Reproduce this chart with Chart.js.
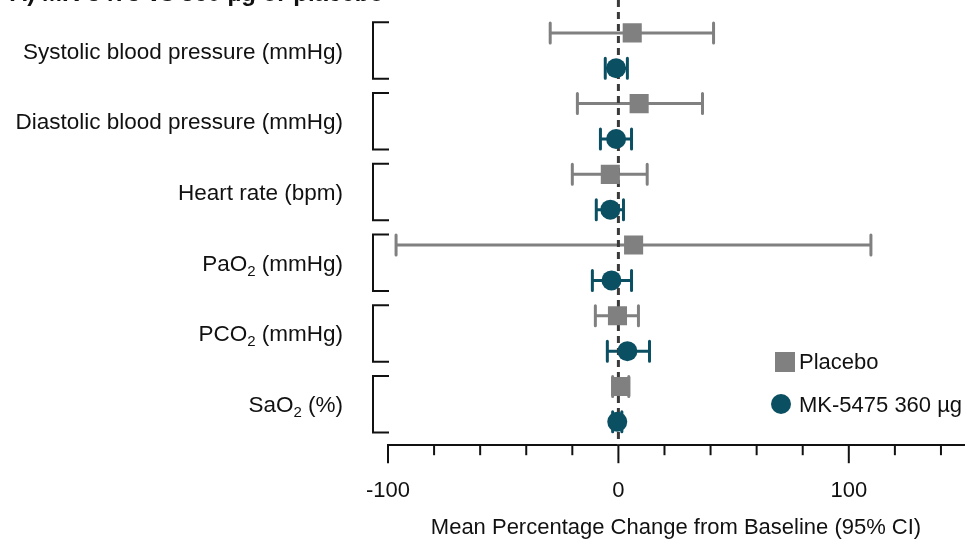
<!DOCTYPE html>
<html>
<head>
<meta charset="utf-8">
<script src="https://cdn.jsdelivr.net/npm/chart.js@4.4.1/dist/chart.umd.min.js"></script>
<style>
  body { margin: 0; background: #fff; }
  #wrap { width: 967px; height: 546px; position: relative; }
</style>
</head>
<body>
<div id="wrap"><canvas id="myChart"></canvas></div>
<script>
// categories, "_2" means subscript 2
var categories = ['Systolic blood pressure (mmHg)', 'Diastolic blood pressure (mmHg)', 'Heart rate (bpm)',
                  'PaO_2 (mmHg)', 'PCO_2 (mmHg)', 'SaO_2 (%)'];

var placeboMean = [6, 9, -3.5, 6.6, -0.4, 1];
var placeboLow  = [-29.6, -17.8, -20, -96.5, -10, -2.5];
var placeboHigh = [41.3, 36.5, 12.5, 109.6, 8.7, 4.5];

var mkMean = [-1, -1, -3.5, -3, 3.9, -0.5];
var mkLow  = [-5.7, -7.8, -9.6, -11.3, -4.8, -2.5];
var mkHigh = [3.9, 5.7, 2.2, 5.7, 13.5, 1.5];

var majorTicks = [-100, 0, 100];
var minorTicks = [-80, -60, -40, -20, 20, 40, 60, 80, 120, 140];

var grey = '#808080';
var teal = '#0b4f63';
var font = '"Liberation Sans", Arial, sans-serif';

var placeboPts = placeboMean.map(function (v, i) { return { x: v, y: i * 2 }; });
var mkPts = mkMean.map(function (v, i) { return { x: v, y: i * 2 + 1 }; });

function drawLabel(ctx, text, xRight, y) {
    // split on subscript marker
    var parts = text.split('_2');
    var mainFont = '22.5px ' + font;
    var subFont = '15px ' + font;
    ctx.font = mainFont;
    if (parts.length > 1) {
        var w1 = ctx.measureText(parts[0]).width;
        var w3 = ctx.measureText(parts[1]).width;
        ctx.font = subFont;
        var w2 = ctx.measureText('2').width;
        var x = xRight - (w1 + w2 + w3);
        ctx.textAlign = 'left';
        ctx.font = mainFont;
        ctx.fillText(parts[0], x, y);
        ctx.font = subFont;
        ctx.fillText('2', x + w1, y + 7);
        ctx.font = mainFont;
        ctx.fillText(parts[1], x + w1 + w2, y);
    } else {
        ctx.textAlign = 'right';
        ctx.fillText(text, xRight, y);
    }
}

var forestPlugin = {
    id: 'forest',
    beforeDatasetsDraw: function (chart) {
        var ctx = chart.ctx;
        var xs = chart.scales.x, ys = chart.scales.y;
        var area = chart.chartArea;
        ctx.save();

        // brackets and labels
        ctx.strokeStyle = '#111';
        ctx.lineWidth = 2;
        ctx.fillStyle = '#111';
        ctx.textBaseline = 'middle';
        for (var i = 0; i < categories.length; i++) {
            var top = ys.getPixelForValue(i * 2 - 0.3);
            var bot = ys.getPixelForValue(i * 2 + 1 + 0.3);
            ctx.beginPath();
            ctx.moveTo(389, top);
            ctx.lineTo(373, top);
            ctx.lineTo(373, bot);
            ctx.lineTo(389, bot);
            ctx.stroke();
            drawLabel(ctx, categories[i], 343, ys.getPixelForValue(i * 2 + 0.55));
        }

        // error bars
        function bars(lo, hi, offset, color, capHalf) {
            ctx.strokeStyle = color;
            ctx.lineWidth = 3;
            ctx.lineCap = 'round';
            for (var i = 0; i < lo.length; i++) {
                var y = ys.getPixelForValue(i * 2 + offset);
                var x1 = xs.getPixelForValue(lo[i]);
                var x2 = xs.getPixelForValue(hi[i]);
                ctx.beginPath();
                ctx.moveTo(x1, y); ctx.lineTo(x2, y);
                ctx.moveTo(x1, y - capHalf); ctx.lineTo(x1, y + capHalf);
                ctx.moveTo(x2, y - capHalf); ctx.lineTo(x2, y + capHalf);
                ctx.stroke();
            }
        }
        bars(placeboLow, placeboHigh, 0, grey, 10);
        bars(mkLow, mkHigh, 1, teal, 10);

        // zero line
        var x0 = xs.getPixelForValue(0);
        ctx.strokeStyle = '#3a3a3a';
        ctx.lineWidth = 3;
        ctx.lineCap = 'butt';
        ctx.setLineDash([7, 5]);
        ctx.beginPath();
        ctx.moveTo(x0, 0);
        ctx.lineTo(x0, area.bottom);
        ctx.stroke();
        ctx.restore();
    },
    afterDraw: function (chart) {
        var ctx = chart.ctx;
        var xs = chart.scales.x;
        var b = chart.chartArea.bottom;
        ctx.save();
        // tick marks
        ctx.strokeStyle = '#111';
        ctx.lineWidth = 2;
        majorTicks.forEach(function (t) {
            var x = xs.getPixelForValue(t);
            ctx.beginPath(); ctx.moveTo(x, b); ctx.lineTo(x, b + 18); ctx.stroke();
        });
        minorTicks.forEach(function (t) {
            var x = xs.getPixelForValue(t);
            ctx.beginPath(); ctx.moveTo(x, b); ctx.lineTo(x, b + 10); ctx.stroke();
        });

        // legend
        ctx.fillStyle = grey;
        ctx.fillRect(775, 352, 20, 20);
        ctx.fillStyle = teal;
        ctx.beginPath(); ctx.arc(781, 404, 10, 0, Math.PI * 2); ctx.fill();
        ctx.fillStyle = '#111';
        ctx.font = '22px ' + font;
        ctx.textAlign = 'left';
        ctx.textBaseline = 'middle';
        ctx.fillText('Placebo', 799, 363);
        ctx.fillText('MK-5475 360 \u00b5g', 799, 406);

        // title, cut off at the top
        ctx.font = 'bold 24px ' + font;
        ctx.textBaseline = 'alphabetic';
        ctx.fillText('A) MK-5475 vs 360 \u00b5g or placebo', 10, 1);
        ctx.restore();
    }
};

var ctx = document.getElementById('myChart').getContext('2d');

var myChart = new Chart(ctx, {
    type: 'scatter',
    data: {
        datasets: [{
            label: 'Placebo',
            data: placeboPts,
            pointStyle: 'rect',
            pointRadius: 13.5,
            backgroundColor: grey,
            borderWidth: 0
        }, {
            label: 'MK-5475 360 \u00b5g',
            data: mkPts,
            pointStyle: 'circle',
            pointRadius: 10,
            backgroundColor: teal,
            borderWidth: 0
        }]
    },
    options: {
        responsive: true,
        maintainAspectRatio: false,
        animation: false,
        layout: { autoPadding: false, padding: { left: 388, right: 3, top: 0, bottom: 3 } },
        plugins: { legend: { display: false }, tooltip: { enabled: false } },
        scales: {
            x: {
                type: 'linear',
                min: -100,
                max: 150,
                afterFit: function (scale) { scale.paddingRight = 0; },
                border: { display: true, color: '#111', width: 2 },
                grid: { display: true, drawOnChartArea: false, drawTicks: true, tickLength: 18, tickColor: 'rgba(0,0,0,0)' },
                ticks: {
                    stepSize: 20,
                    autoSkip: false,
                    maxRotation: 0,
                    padding: 15,
                    color: '#111',
                    font: { size: 22, family: font },
                    callback: function (v) { return majorTicks.indexOf(v) >= 0 ? String(v) : ''; }
                },
                title: {
                    display: true,
                    text: 'Mean Percentage Change from Baseline (95% CI)',
                    color: '#111',
                    font: { size: 22, family: font },
                    padding: { top: -5, bottom: 2 }
                }
            },
            y: {
                type: 'linear',
                reverse: true,
                min: -0.93,
                max: 11.66,
                display: false
            }
        }
    },
    plugins: [forestPlugin]
});
</script>
</body>
</html>
